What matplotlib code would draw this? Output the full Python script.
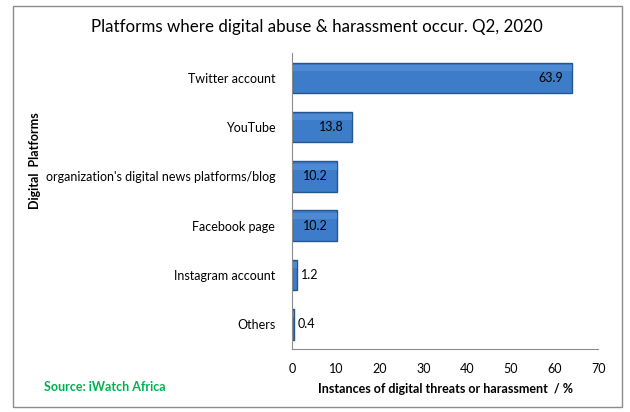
import matplotlib.pyplot as plt
from matplotlib.patches import Rectangle

plt.rcParams['font.family'] = ['Lato', 'DejaVu Sans']

platforms = [
    "Twitter account",
    "YouTube",
    "organization's digital news platforms/blog",
    "Facebook page",
    "Instagram account",
    "Others",
]
shares = [63.9, 13.8, 10.2, 10.2, 1.2, 0.4]

fig = plt.figure(figsize=(6.3, 4.12), dpi=100)
ax = fig.add_axes([0.4635, 0.153, 0.486, 0.718])

ypos = list(range(len(platforms)))[::-1]
bars = ax.barh(ypos, shares, height=0.62, color="#3d7cc9",
               edgecolor="#27568f", linewidth=1.0)
# lighter top strip to hint at the bevel
ax.barh([y + 0.2 for y in ypos], shares, height=0.12, color="#4d8ad3",
        linewidth=0)

for y, v in zip(ypos, shares):
    if v > 5:
        ax.text(v - 2.0, y, f"{v}", ha="right", va="center", fontsize=9,
                color="black")
    else:
        ax.text(v + 0.8, y, f"{v}", ha="left", va="center", fontsize=9,
                color="black")

ax.set_xlim(0, 70)
ax.set_ylim(-0.5, len(platforms) - 0.5)
ax.set_xticks(range(0, 71, 10))
ax.set_yticks(ypos)
ax.set_yticklabels(platforms, fontsize=9)
ax.tick_params(axis="both", length=0, labelsize=9)
ax.tick_params(axis="x", pad=10)
ax.tick_params(axis="y", pad=12)

for side in ["top", "right"]:
    ax.spines[side].set_visible(False)
for side in ["left", "bottom"]:
    ax.spines[side].set_color("#8c8c8c")

ax.set_xlabel("Instances of digital threats or harassment  / %",
              fontsize=9, fontweight="bold", labelpad=6)

fig.text(0.056, 0.61, "Digital  Platforms", rotation=90, fontsize=9,
         fontweight="bold", ha="center", va="center")
fig.text(0.503, 0.934, "Platforms where digital abuse & harassment occur. Q2, 2020",
         fontsize=12.2, ha="center", va="center")
fig.text(0.07, 0.06, "Source: iWatch Africa", fontsize=9, fontweight="bold",
         color="#00b050", ha="left", va="center")

fig.patches.append(Rectangle((0.021, 0.012), 0.966, 0.973,
                             transform=fig.transFigure, fill=False,
                             edgecolor="#8c8c8c", linewidth=1.0))

fig.savefig("out.png", dpi=100)
